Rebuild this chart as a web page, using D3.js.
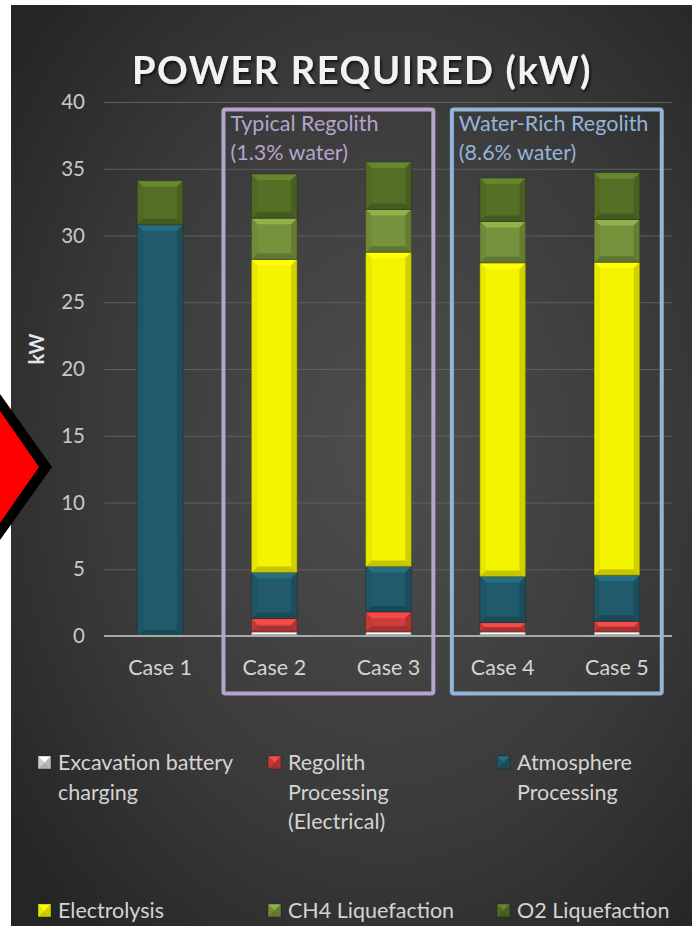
<!DOCTYPE html>
<html>
<head>
<meta charset="utf-8">
<script src="https://cdn.jsdelivr.net/npm/d3@7"></script>
<style>
  html, body { margin: 0; padding: 0; background: #ffffff; }
  svg { display: block; }
  text { font-family: Lato, "Open Sans", "DejaVu Sans", sans-serif; }
</style>
</head>
<body>
<svg id="chart" width="692" height="926"></svg>
<script>
// ---- data ----
const cases = ["Case 1", "Case 2", "Case 3", "Case 4", "Case 5"];
const seriesNames = [
  "Excavation battery charging",
  "Regolith Processing (Electrical)",
  "Atmosphere Processing",
  "Electrolysis",
  "CH4 Liquefaction",
  "O2 Liquefaction"
];
const excavation   = [0,    0.3,   0.3,   0.3,   0.3];
const regolith     = [0,    1.0,   1.5,   0.7,   0.8];
const atmosphere   = [30.8, 3.45,  3.4,   3.45,  3.45];
const electrolysis = [0,    23.45, 23.55, 23.5,  23.45];
const ch4Liq       = [0,    3.1,   3.2,   3.1,   3.2];
const o2Liq        = [3.3,  3.3,   3.55,  3.25,  3.5];
const yTicks = [0, 5, 10, 15, 20, 25, 30, 35, 40];
const seriesColors = ["#d8d8d8", "#cc3d3b", "#215a6b", "#f4f400", "#76923c", "#556f26"];

const seriesValues = [excavation, regolith, atmosphere, electrolysis, ch4Liq, o2Liq];
const table = cases.map((c, i) => {
  const row = { case: c };
  seriesNames.forEach((s, k) => { row[s] = seriesValues[k][i]; });
  return row;
});

const svg = d3.select("#chart");
const defs = svg.append("defs");

// background panel
const bg = defs.append("radialGradient").attr("id", "bgGrad")
  .attr("cx", "55%").attr("cy", "48%").attr("r", "70%");
bg.append("stop").attr("offset", "0%").attr("stop-color", "#4e4e4e");
bg.append("stop").attr("offset", "60%").attr("stop-color", "#3a3a3a");
bg.append("stop").attr("offset", "100%").attr("stop-color", "#252525");
svg.append("rect").attr("x", 11).attr("y", 5).attr("width", 681).attr("height", 921)
  .attr("fill", "url(#bgGrad)");

const shadow = defs.append("filter").attr("id", "txtShadow")
  .attr("x", "-10%").attr("y", "-20%").attr("width", "120%").attr("height", "150%");
shadow.append("feDropShadow").attr("dx", 1.5).attr("dy", 2).attr("stdDeviation", 1.5)
  .attr("flood-color", "#000").attr("flood-opacity", 0.7);

// yellow face sheen (diagonal bevel highlight)
const sheen = defs.append("linearGradient").attr("id", "sheen")
  .attr("x1", "0%").attr("y1", "0%").attr("x2", "100%").attr("y2", "100%");
sheen.append("stop").attr("offset", "0%").attr("stop-color", "#fff").attr("stop-opacity", 0.0);
sheen.append("stop").attr("offset", "100%").attr("stop-color", "#000").attr("stop-opacity", 0.0);

// title
svg.append("text").attr("x", 362).attr("y", 84).attr("text-anchor", "middle")
  .attr("fill", "#f2f2f2").attr("font-size", 38).attr("font-weight", 700)
  .attr("letter-spacing", 1.6).attr("filter", "url(#txtShadow)")
  .text("POWER REQUIRED (kW)");

// scales
const x = d3.scaleBand().domain(cases).range([103, 674]).paddingInner(0.6).paddingOuter(0.3);
const y = d3.scaleLinear().domain([0, 40]).range([636, 102]);

// gridlines + tick labels
const yAxis = d3.axisLeft(y).tickValues(yTicks).tickSize(-(672 - 104)).tickPadding(19);
const gy = svg.append("g").attr("transform", "translate(104,0)").call(yAxis);
gy.select(".domain").remove();
gy.selectAll(".tick line").attr("stroke", "#5e5e5e").attr("stroke-width", 1);
gy.selectAll(".tick text").attr("fill", "#c8c8c8").attr("font-size", 20.5)
  .attr("font-family", "Lato, sans-serif");

// y-axis title
svg.append("text").attr("transform", "translate(44,349) rotate(-90)")
  .attr("text-anchor", "middle").attr("fill", "#e6e6e6").attr("font-size", 20)
  .attr("font-weight", 700)
  .text("kW");

// bevelled rectangle
function bevelRect(g, bx, by, bw, bh, color) {
  const c = d3.color(color);
  const b = Math.min(6, bh / 2, bw / 2);
  g.append("rect").attr("x", bx).attr("y", by).attr("width", bw).attr("height", bh).attr("fill", c.formatHex());
  const poly = (pts, fill) => g.append("polygon").attr("points", pts.map(p => p.join(",")).join(" ")).attr("fill", fill);
  poly([[bx, by], [bx + bw, by], [bx + bw - b, by + b], [bx + b, by + b]], c.brighter(0.55).formatHex());
  poly([[bx, by], [bx + b, by + b], [bx + b, by + bh - b], [bx, by + bh]], c.darker(0.15).formatHex());
  poly([[bx + bw, by], [bx + bw - b, by + b], [bx + bw - b, by + bh - b], [bx + bw, by + bh]], c.darker(0.45).formatHex());
  poly([[bx, by + bh], [bx + b, by + bh - b], [bx + bw - b, by + bh - b], [bx + bw, by + bh]], c.darker(0.6).formatHex());
  g.append("rect").attr("x", bx).attr("y", by).attr("width", bw).attr("height", bh)
    .attr("fill", "none").attr("stroke", "#1a1a1a").attr("stroke-opacity", 0.45).attr("stroke-width", 0.8);
}

// stacked bars
const stack = d3.stack().keys(seriesNames)(table);
const barsG = svg.append("g");
stack.forEach((layer, k) => {
  layer.forEach((d, i) => {
    if (d[1] - d[0] <= 0) return;
    const x0 = x(cases[i]);
    const yTop = y(d[1]), yBot = y(d[0]);
    bevelRect(barsG, x0, yTop, x.bandwidth(), yBot - yTop, seriesColors[k]);
  });
});

// zero baseline
svg.append("line").attr("x1", 104).attr("x2", 672).attr("y1", y(0)).attr("y2", y(0))
  .attr("stroke", "#a8a8a8").attr("stroke-width", 2);

// category labels
svg.append("g").selectAll("text").data(cases).join("text")
  .attr("x", d => x(d) + x.bandwidth() / 2).attr("y", 675)
  .attr("text-anchor", "middle").attr("fill", "#d4d4d4").attr("font-size", 21.5)
  .text(d => d);

// regolith group boxes
const groups = [
  { from: "Case 2", to: "Case 3", color: "#b5a4cc", lines: ["Typical Regolith", "(1.3% water)"] },
  { from: "Case 4", to: "Case 5", color: "#95b4da", lines: ["Water-Rich Regolith", "(8.6% water)"] }
];
groups.forEach(gr => {
  const left = x(gr.from) - 28;
  const right = x(gr.to) + x.bandwidth() + 22;
  svg.append("rect").attr("x", left).attr("y", 109.5).attr("width", right - left).attr("height", 584)
    .attr("rx", 2).attr("fill", "none").attr("stroke", gr.color).attr("stroke-width", 4);
  gr.lines.forEach((t, j) => {
    svg.append("text").attr("x", left + 7).attr("y", 131 + j * 29)
      .attr("fill", gr.color).attr("font-size", 21.5).text(t);
  });
});

// red pointer on the left edge
svg.append("polygon").attr("points", "52,467 0,394 -52,467 0,540").attr("fill", "#000");
svg.append("polygon").attr("points", "39,467 0,411 -39,467 0,523").attr("fill", "#ff0000");

// legend
const legend = [
  { k: 0, x: 38, y: 762, lines: ["Excavation battery", "charging"] },
  { k: 1, x: 268, y: 762, lines: ["Regolith", "Processing", "(Electrical)"] },
  { k: 2, x: 497, y: 762, lines: ["Atmosphere", "Processing"] },
  { k: 3, x: 38, y: 910, lines: ["Electrolysis"] },
  { k: 4, x: 268, y: 910, lines: ["CH4 Liquefaction"] },
  { k: 5, x: 497, y: 910, lines: ["O2 Liquefaction"] }
];
const lg = svg.append("g");
legend.forEach(it => {
  bevelRect(lg, it.x, it.y - 6, 13, 13, seriesColors[it.k]);
  it.lines.forEach((t, j) => {
    lg.append("text").attr("x", it.x + 20).attr("y", it.y + 8 + j * 29.5)
      .attr("fill", "#d4d4d4").attr("font-size", 21.5).text(t);
  });
});
</script>
</body>
</html>
